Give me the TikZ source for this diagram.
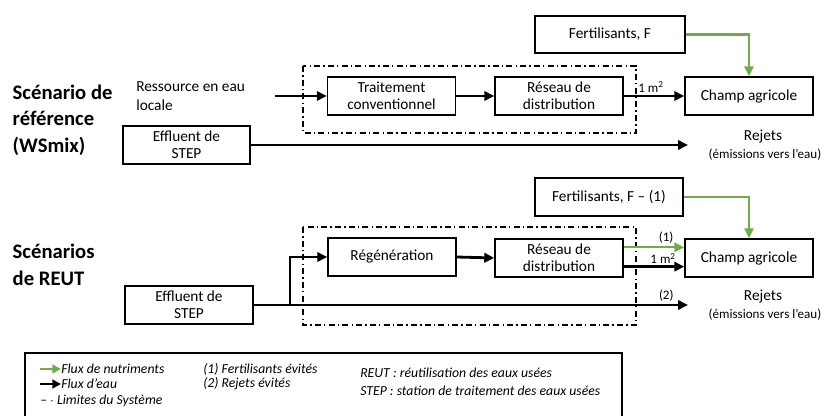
\documentclass[tikz,border=0pt]{standalone}
\usepackage{fontspec}
\setmainfont{Carlito}
\usetikzlibrary{arrows.meta}
\definecolor{nutgreen}{RGB}{112,173,71}

\begin{document}
\begin{tikzpicture}[x=0.75pt,y=-0.75pt,line join=miter,
  box/.style={draw,line width=1.1pt,minimum width=128*0.75pt,minimum height=38*0.75pt,align=center,inner sep=1pt,font=\fontsize{11.5}{13}\selectfont},
  water/.style={-{Triangle[length=7.5pt,width=7pt]},line width=2.1pt},
  nutri/.style={-{Triangle[length=7.5pt,width=7pt]},nutgreen,line width=1.6pt},
  sysbound/.style={line width=0.9pt,dash pattern=on 4.5pt off 2.4pt on 1pt off 2.4pt},
  title/.style={anchor=west,align=left,font=\fontsize{15.5}{20}\selectfont\bfseries},
  small/.style={font=\fontsize{9.8}{11}\selectfont,text=black},
  legend/.style={anchor=west,font=\fontsize{10.3}{12}\selectfont\itshape,inner sep=0pt}]
\useasboundingbox (0,0) rectangle (826,416);
% --- scenario de reference
\node[title] (titA) at (8,120) {Sc\'enario de\\r\'ef\'erence\\(WSmix)};
\draw[sysbound] (303,66) rectangle (636,133);
\node[box,minimum width=150*0.75pt,minimum height=37*0.75pt] (fertA) at (610,34.5) {Fertilisants, F};
\node[box] (traitA) at (391.5,96) {Traitement\\conventionnel};
\node[box] (reseauA) at (559,96) {R\'eseau de\\distribution};
\node[box] (champA) at (749,96) {Champ agricole};
\node[box,minimum width=127*0.75pt] (effA) at (186.5,145) {Effluent de\\STEP};
\node[anchor=west,align=left,inner sep=0pt,font=\fontsize{11.5}{14}\selectfont] (ressA) at (136,96) {Ressource en eau\\locale};
\coordinate (srcA) at (275,96);
\coordinate (rejA) at (688,145);
\node[font=\fontsize{11.5}{12}\selectfont] (rejetsA) at (763,137) {Rejets};
\node[small] (emisA) at (765,155) {(\'emissions vers l'eau)};
\draw[water] (srcA) -- (traitA.west);
\draw[water] (traitA.east) -- (reseauA.west);
\draw[water] (reseauA.east) -- node[pos=0.45,above,small,inner sep=1.5pt] (m2A) {1 m\textsuperscript{2}} (champA.west);
\draw[water] (effA.east) -- (rejA);
\draw[nutri] (fertA.east) -| (champA.north);
% --- scenarios de REUT
\node[title] (titB) at (8,265) {Sc\'enarios\\de REUT};
\draw[sysbound] (303,227) rectangle (636,325);
\node[box,minimum width=148*0.75pt] (fertB) at (609,197) {Fertilisants, F -- (1)};
\node[box] (regenB) at (392,257) {R\'eg\'en\'eration};
\node[box] (reseauB) at (559,258) {R\'eseau de\\distribution};
\node[box] (champB) at (749,258) {Champ agricole};
\node[box] (effB) at (189,305) {Effluent de\\STEP};
\coordinate (rejB) at (688,305);
\coordinate (juncB) at (290,305);
\node[font=\fontsize{11.5}{12}\selectfont] (rejetsB) at (763,297) {Rejets};
\node[small] (emisB) at (765,315) {(\'emissions vers l'eau)};
\draw[water] (effB.east) -- node[pos=0.95,above,small,inner sep=2pt] (deux) {(2)} (rejB);
\draw[water] (juncB) |- (regenB.west);
\draw[water] (regenB.east) -- (reseauB.west);
\draw[nutri] ([yshift=8pt]reseauB.east) -- node[pos=0.7,above,small,inner sep=2pt] (un) {(1)} ([yshift=8pt]champB.west);
\draw[water] ([yshift=-6.5pt]reseauB.east) -- node[pos=0.65,above,small,inner sep=1pt] (m2B) {1 m\textsuperscript{2}} ([yshift=-6.5pt]champB.west);
\draw[nutri] (fertB.east) -| (champB.north);
% --- legende
\draw[line width=1.1pt] (25,430) |- (622,353) -- (622,430);
\node[legend] (lgNut) at (61,369) {Flux de nutriments};
\node[legend] (lgEau) at (61,384) {Flux d'eau};
\node[legend] (lgSys) at (40,401) {{\upshape -- $\cdot$} Limites du Syst\`eme};
\coordinate (lgNutA) at (40,369);
\coordinate (lgEauA) at (40,384);
\draw[nutri,-{Triangle[length=6.5pt,width=6.5pt]}] (lgNutA) -- (lgNut.west);
\draw[water,line width=1.8pt,-{Triangle[length=6.5pt,width=6.5pt]}] (lgEauA) -- (lgEau.west);
\node[legend] (lgUn) at (203,369) {(1) Fertilisants \'evit\'es};
\node[legend] (lgDeux) at (203,384) {(2) Rejets \'evit\'es};
\node[legend] (lgReut) at (360,373) {REUT : r\'eutilisation des eaux us\'ees};
\node[legend] (lgStep) at (360,391) {STEP : station de traitement des eaux us\'ees};
\end{tikzpicture}
\end{document}
